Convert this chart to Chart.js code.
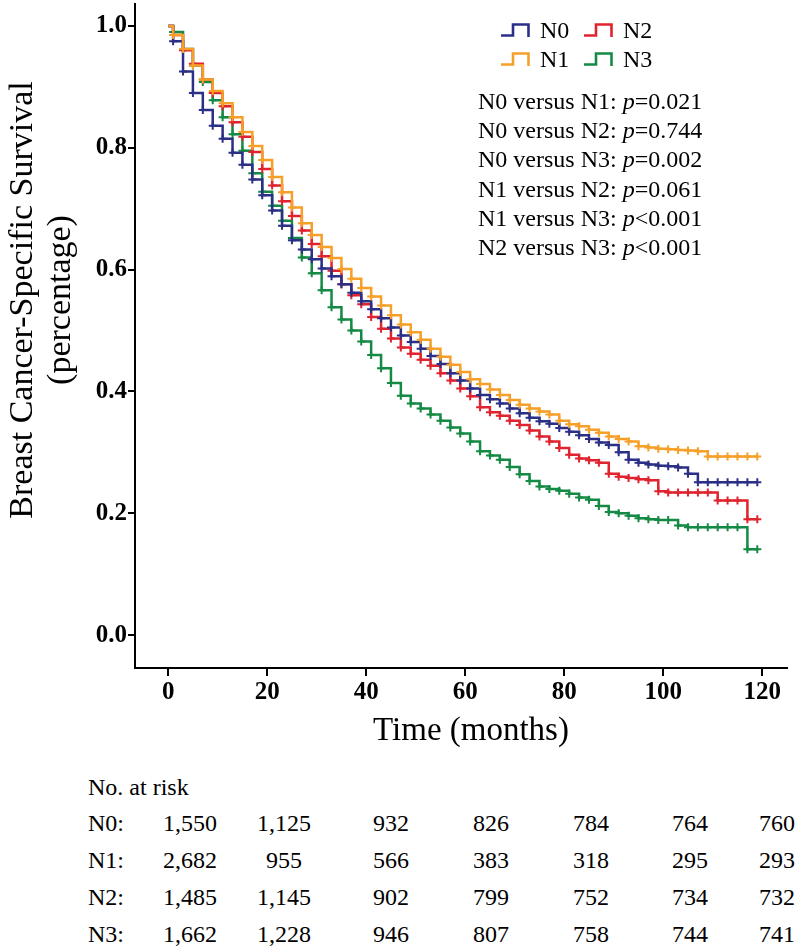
<!DOCTYPE html>
<html>
<head>
<meta charset="utf-8">
<script src="https://cdn.jsdelivr.net/npm/chart.js@4.4.1/dist/chart.umd.min.js"></script>
<style>
  body { margin: 0; background: #fff; }
  #wrap { position: relative; width: 800px; height: 950px; overflow: hidden; font-family: "Liberation Serif", "Times New Roman", serif; color: #000; }
  #km { position: absolute; left: 0; top: -12px; }
  .abs { position: absolute; white-space: nowrap; line-height: 1; }
  #ytitle { position: absolute; left: -210px; top: 262px; width: 500px; height: 76px; font-size: 34px; line-height: 38px; text-align: center; transform: rotate(-90deg); }
  #xtitle { position: absolute; left: 271px; top: 710px; width: 400px; font-size: 33px; line-height: 38px; text-align: center; }
  .pv { font-size: 24px; }
  .risk { font-size: 24px; }
</style>
</head>
<body>
<div id="wrap">
  <canvas id="km" width="800" height="771"></canvas>
  <div id="ytitle">Breast Cancer-Specific Survival<br>(percentage)</div>
  <div id="xtitle">Time (months)</div>
</div>
<script>
// time points (months) where the curves are read, plus survival per stage
const months = [0,
  1, 3, 5, 7, 9, 11, 13, 15, 17, 19,
  21, 23, 25, 27, 29, 31, 33, 35, 37, 39,
  41, 43, 45, 47, 49, 51, 53, 55, 57, 59,
  61, 63, 65, 67, 69, 71, 73, 75, 77, 79,
  81, 83, 85, 87, 89, 91, 93, 95, 97, 99,
  101, 103, 105, 107, 109, 111, 113, 115, 117, 119];

const survN0 = [1.000,
  0.975, 0.925, 0.890, 0.862, 0.836, 0.815, 0.792, 0.772, 0.748, 0.722,
  0.697, 0.672, 0.648, 0.633, 0.617, 0.602, 0.589, 0.576, 0.562, 0.548,
  0.535, 0.520, 0.505, 0.492, 0.481, 0.470, 0.458, 0.445, 0.430, 0.418,
  0.405, 0.394, 0.387, 0.380, 0.372, 0.364, 0.357, 0.351, 0.347, 0.340,
  0.334, 0.328, 0.322, 0.316, 0.312, 0.300, 0.288, 0.283, 0.280, 0.278,
  0.277, 0.275, 0.265, 0.251, 0.251, 0.251, 0.251, 0.251, 0.251, 0.251];

const survN1 = [1.000,
  0.985, 0.962, 0.935, 0.912, 0.893, 0.873, 0.850, 0.826, 0.803, 0.780,
  0.752, 0.727, 0.702, 0.676, 0.657, 0.637, 0.619, 0.601, 0.585, 0.570,
  0.556, 0.541, 0.525, 0.510, 0.497, 0.485, 0.470, 0.457, 0.444, 0.432,
  0.420, 0.412, 0.403, 0.394, 0.386, 0.378, 0.372, 0.367, 0.362, 0.352,
  0.346, 0.343, 0.337, 0.332, 0.326, 0.322, 0.318, 0.310, 0.308, 0.306,
  0.305, 0.304, 0.303, 0.302, 0.293, 0.293, 0.293, 0.293, 0.293, 0.293];

const survN2 = [1.000,
  0.985, 0.960, 0.938, 0.912, 0.890, 0.868, 0.842, 0.818, 0.793, 0.765,
  0.738, 0.712, 0.688, 0.664, 0.642, 0.622, 0.598, 0.576, 0.558, 0.543,
  0.522, 0.503, 0.487, 0.472, 0.462, 0.452, 0.442, 0.430, 0.418, 0.405,
  0.392, 0.374, 0.366, 0.360, 0.352, 0.345, 0.336, 0.326, 0.318, 0.307,
  0.296, 0.290, 0.287, 0.283, 0.265, 0.260, 0.258, 0.256, 0.254, 0.236,
  0.234, 0.234, 0.234, 0.234, 0.234, 0.221, 0.221, 0.221, 0.190, 0.190];

const survN3 = [1.000,
  0.990, 0.962, 0.935, 0.908, 0.878, 0.850, 0.822, 0.795, 0.758, 0.728,
  0.705, 0.680, 0.652, 0.620, 0.594, 0.566, 0.538, 0.518, 0.500, 0.482,
  0.460, 0.438, 0.414, 0.393, 0.380, 0.372, 0.362, 0.352, 0.341, 0.331,
  0.318, 0.302, 0.295, 0.288, 0.276, 0.264, 0.253, 0.244, 0.240, 0.237,
  0.232, 0.226, 0.222, 0.212, 0.202, 0.200, 0.196, 0.192, 0.190, 0.189,
  0.189, 0.180, 0.177, 0.177, 0.177, 0.177, 0.177, 0.177, 0.141, 0.141];

const xTicks = [0, 20, 40, 60, 80, 100, 120];
const yTicks = [0, 0.2, 0.4, 0.6, 0.8, 1.0];

const groups = ["N0", "N1", "N2", "N3"];
const colors = {N0: "#2b2f86", N1: "#f6a02a", N2: "#e0242f", N3: "#148a45"};

const comparisons = ["N0 versus N1", "N0 versus N2", "N0 versus N3", "N1 versus N2", "N1 versus N3", "N2 versus N3"];
const pValues = ["=0.021", "=0.744", "=0.002", "=0.061", "<0.001", "<0.001"];

const riskN0 = [1550, 1125, 932, 826, 784, 764, 760];
const riskN1 = [2682, 955, 566, 383, 318, 295, 293];
const riskN2 = [1485, 1145, 902, 799, 752, 734, 732];
const riskN3 = [1662, 1228, 946, 807, 758, 744, 741];

const survival = {N0: survN0, N1: survN1, N2: survN2, N3: survN3};
const risk = {N0: riskN0, N1: riskN1, N2: riskN2, N3: riskN3};

Chart.defaults.font.family = "'Liberation Serif', 'Times New Roman', serif";
Chart.defaults.color = "#000";

function kmDataset(name) {
    return {
        label: name,
        data: months.map((t, i) => ({x: t, y: survival[name][i]})),
        stepped: "before",
        borderColor: colors[name],
        borderWidth: 2.5,
        fill: false,
        pointStyle: "cross",
        pointRadius: ctx => ctx.dataIndex === 0 ? 0 : 4,
        pointBorderWidth: 2,
        pointBorderColor: colors[name],
        pointBackgroundColor: colors[name]
    };
}

new Chart(document.getElementById("km"), {
    type: "line",
    data: {
        datasets: ["N1", "N0", "N2", "N3"].map(kmDataset)
    },
    options: {
        responsive: false,
        animation: false,
        devicePixelRatio: 1,
        layout: { padding: { left: 0, right: 13, top: 3, bottom: 0 } },
        plugins: { legend: { display: false }, tooltip: { enabled: false } },
        scales: {
            x: {
                type: "linear",
                min: -6.7,
                max: 125,
                afterBuildTicks: s => { s.ticks = xTicks.map(v => ({value: v})); },
                afterFit: s => { s.height = 91; },
                grid: { drawOnChartArea: false, drawTicks: true, tickLength: 8, color: "#000", lineWidth: 2 },
                border: { display: true, color: "#000", width: 2 },
                ticks: { font: { size: 25, weight: "bold" }, padding: 2, maxRotation: 0, callback: v => v }
            },
            y: {
                type: "linear",
                min: -0.054,
                max: 1.036,
                afterBuildTicks: s => { s.ticks = yTicks.map(v => ({value: v})); },
                afterFit: s => { s.width = 135; },
                grid: { drawOnChartArea: false, drawTicks: true, tickLength: 7, color: "#000", lineWidth: 2 },
                border: { display: true, color: "#000", width: 2 },
                ticks: { font: { size: 25, weight: "bold" }, padding: 1, callback: v => v.toFixed(1) }
            }
        }
    }
});

// legend with step icons
const wrap = document.getElementById("wrap");
const legendPos = {N0: [500, 30], N2: [583, 30], N1: [500, 59], N3: [583, 59]};
groups.forEach(name => {
    const [lx, ly] = legendPos[name];
    const icon = document.createElementNS("http://www.w3.org/2000/svg", "svg");
    icon.setAttribute("width", "32");
    icon.setAttribute("height", "16");
    icon.style.position = "absolute";
    icon.style.left = lx + "px";
    icon.style.top = (ly - 8) + "px";
    icon.innerHTML = '<path d="M1 13.5 H13 V2.5 H28.5 V15" fill="none" stroke="' + colors[name] + '" stroke-width="2.6"/>';
    wrap.appendChild(icon);
    const lab = document.createElement("div");
    lab.className = "abs";
    lab.style.fontSize = "24px";
    lab.style.left = (lx + 40) + "px";
    lab.style.top = (ly - 12) + "px";
    lab.textContent = name;
    wrap.appendChild(lab);
});

// p values
comparisons.forEach((c, i) => {
    const d = document.createElement("div");
    d.className = "abs pv";
    d.style.left = "478px";
    d.style.top = (101 + i * 29.2 - 12) + "px";
    d.innerHTML = c + ": <i>p</i>" + pValues[i].replace("<", "&lt;");
    wrap.appendChild(d);
});

// number at risk table
const riskCols = [190, 284, 391, 491, 591, 690, 777];
const head = document.createElement("div");
head.className = "abs risk";
head.style.left = "88px";
head.style.top = (787 - 12) + "px";
head.textContent = "No. at risk";
wrap.appendChild(head);
groups.forEach((name, r) => {
    const y = 823 + r * 37 - 12;
    const lab = document.createElement("div");
    lab.className = "abs risk";
    lab.style.left = "88px";
    lab.style.top = y + "px";
    lab.textContent = name + ":";
    wrap.appendChild(lab);
    risk[name].forEach((n, c) => {
        const d = document.createElement("div");
        d.className = "abs risk";
        d.style.left = riskCols[c] + "px";
        d.style.top = y + "px";
        d.style.transform = "translateX(-50%)";
        d.textContent = n.toLocaleString("en-US");
        wrap.appendChild(d);
    });
});
</script>
</body>
</html>
